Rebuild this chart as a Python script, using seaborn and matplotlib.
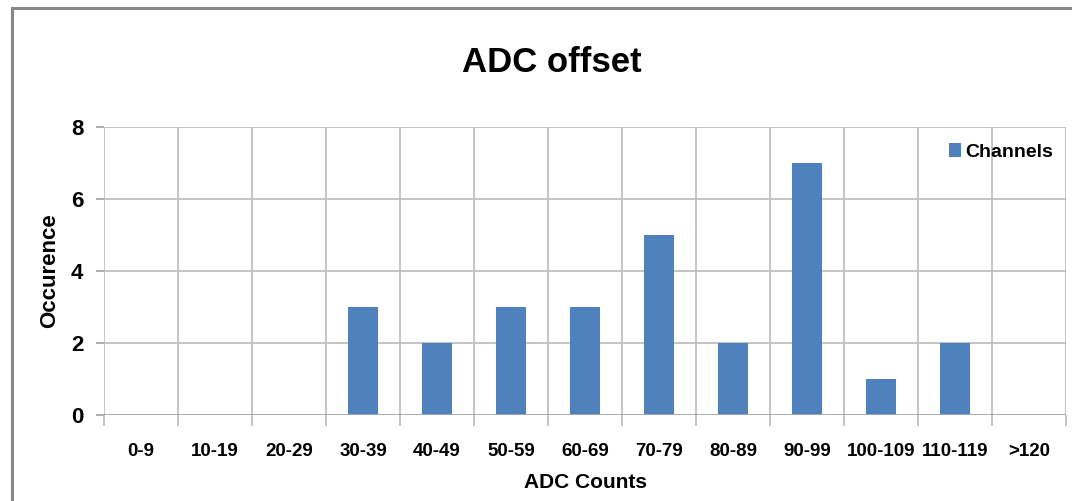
import matplotlib
matplotlib.use("Agg")
import matplotlib.pyplot as plt
import seaborn as sns
import pandas as pd
from matplotlib.patches import Rectangle

categories = ["0-9", "10-19", "20-29", "30-39", "40-49", "50-59", "60-69",
              "70-79", "80-89", "90-99", "100-109", "110-119", ">120"]
counts = [0, 0, 0, 3, 2, 3, 3, 5, 2, 7, 1, 2, 0]
series_name = "Channels"

sns.set_theme(style="white")
plt.rcParams['font.family'] = ['Liberation Sans', 'DejaVu Sans']
plt.rcParams['text.color'] = 'black'
plt.rcParams['axes.labelcolor'] = 'black'

df = pd.DataFrame({"cat": categories, "count": counts, "series": series_name})

W, H = 1072, 501
fig = plt.figure(figsize=(W / 100, H / 100), dpi=100)
ax = fig.add_axes([104 / W, 1 - 415 / H, (1066 - 104) / W, (415 - 127) / H])

bar_color = "#4F81BD"
sns.barplot(data=df, x="cat", y="count", hue="series", palette=[bar_color],
            width=0.405, ax=ax, saturation=1, zorder=3, linewidth=0)

n = len(categories)
ax.set_xlim(-0.5, n - 0.5)
ax.set_ylim(0, 8)
ax.set_yticks([0, 2, 4, 6, 8])

grid_c = "#BFBFBF"
for b in [i - 0.5 for i in range(n + 1)]:
    ax.axvline(b, color=grid_c, lw=1.3, zorder=1)
for yv in [2, 4, 6, 8]:
    ax.axhline(yv, color=grid_c, lw=1.3, zorder=1)
ax.axhline(0, color="#A6A6A6", lw=1.3, zorder=4)

for s in ax.spines.values():
    s.set_visible(False)

ax.set_xticks(range(n))
ax.set_xticklabels(categories)
ax.tick_params(axis="x", length=0, pad=20, labelsize=13.5, labelcolor="black")
ax.tick_params(axis="y", length=6, width=1.3, color="#A6A6A6", pad=9,
               labelsize=16, direction="out", left=True, labelcolor="black")
for lbl in ax.get_xticklabels() + ax.get_yticklabels():
    lbl.set_fontweight("bold")
# x tick marks at category boundaries
ax.set_xticks([i - 0.5 for i in range(n + 1)], minor=True)
ax.tick_params(axis="x", which="minor", length=8, width=1.3, color="#BFBFBF",
               bottom=True, direction="out")

ax.set_xlabel("ADC Counts", fontsize=15, fontweight="bold", va="center")
ax.xaxis.set_label_coords((585 - 104) / 962, (415 - 483) / 288)
ax.set_ylabel("Occurence", fontsize=16, fontweight="bold", va="center")
ax.yaxis.set_label_coords((50 - 104) / 962, 0.5)

fig.text(552 / W, 1 - 63 / H, "ADC offset", ha="center", va="center",
         fontsize=25, fontweight="bold")

leg = ax.legend(loc="center right", bbox_to_anchor=(0.987, 0.913),
                frameon=False, fontsize=14, handlelength=0.6, handleheight=0.7,
                handletextpad=0.25, borderpad=0, borderaxespad=0)
for t in leg.get_texts():
    t.set_fontweight("bold")

fig.patches.append(Rectangle((12 / W, -0.1), (1075 - 12) / W, 1 - 8 / H + 0.1,
                             transform=fig.transFigure, fill=False,
                             edgecolor="#888888", lw=2.2))

fig.savefig("out.png", dpi=100)
